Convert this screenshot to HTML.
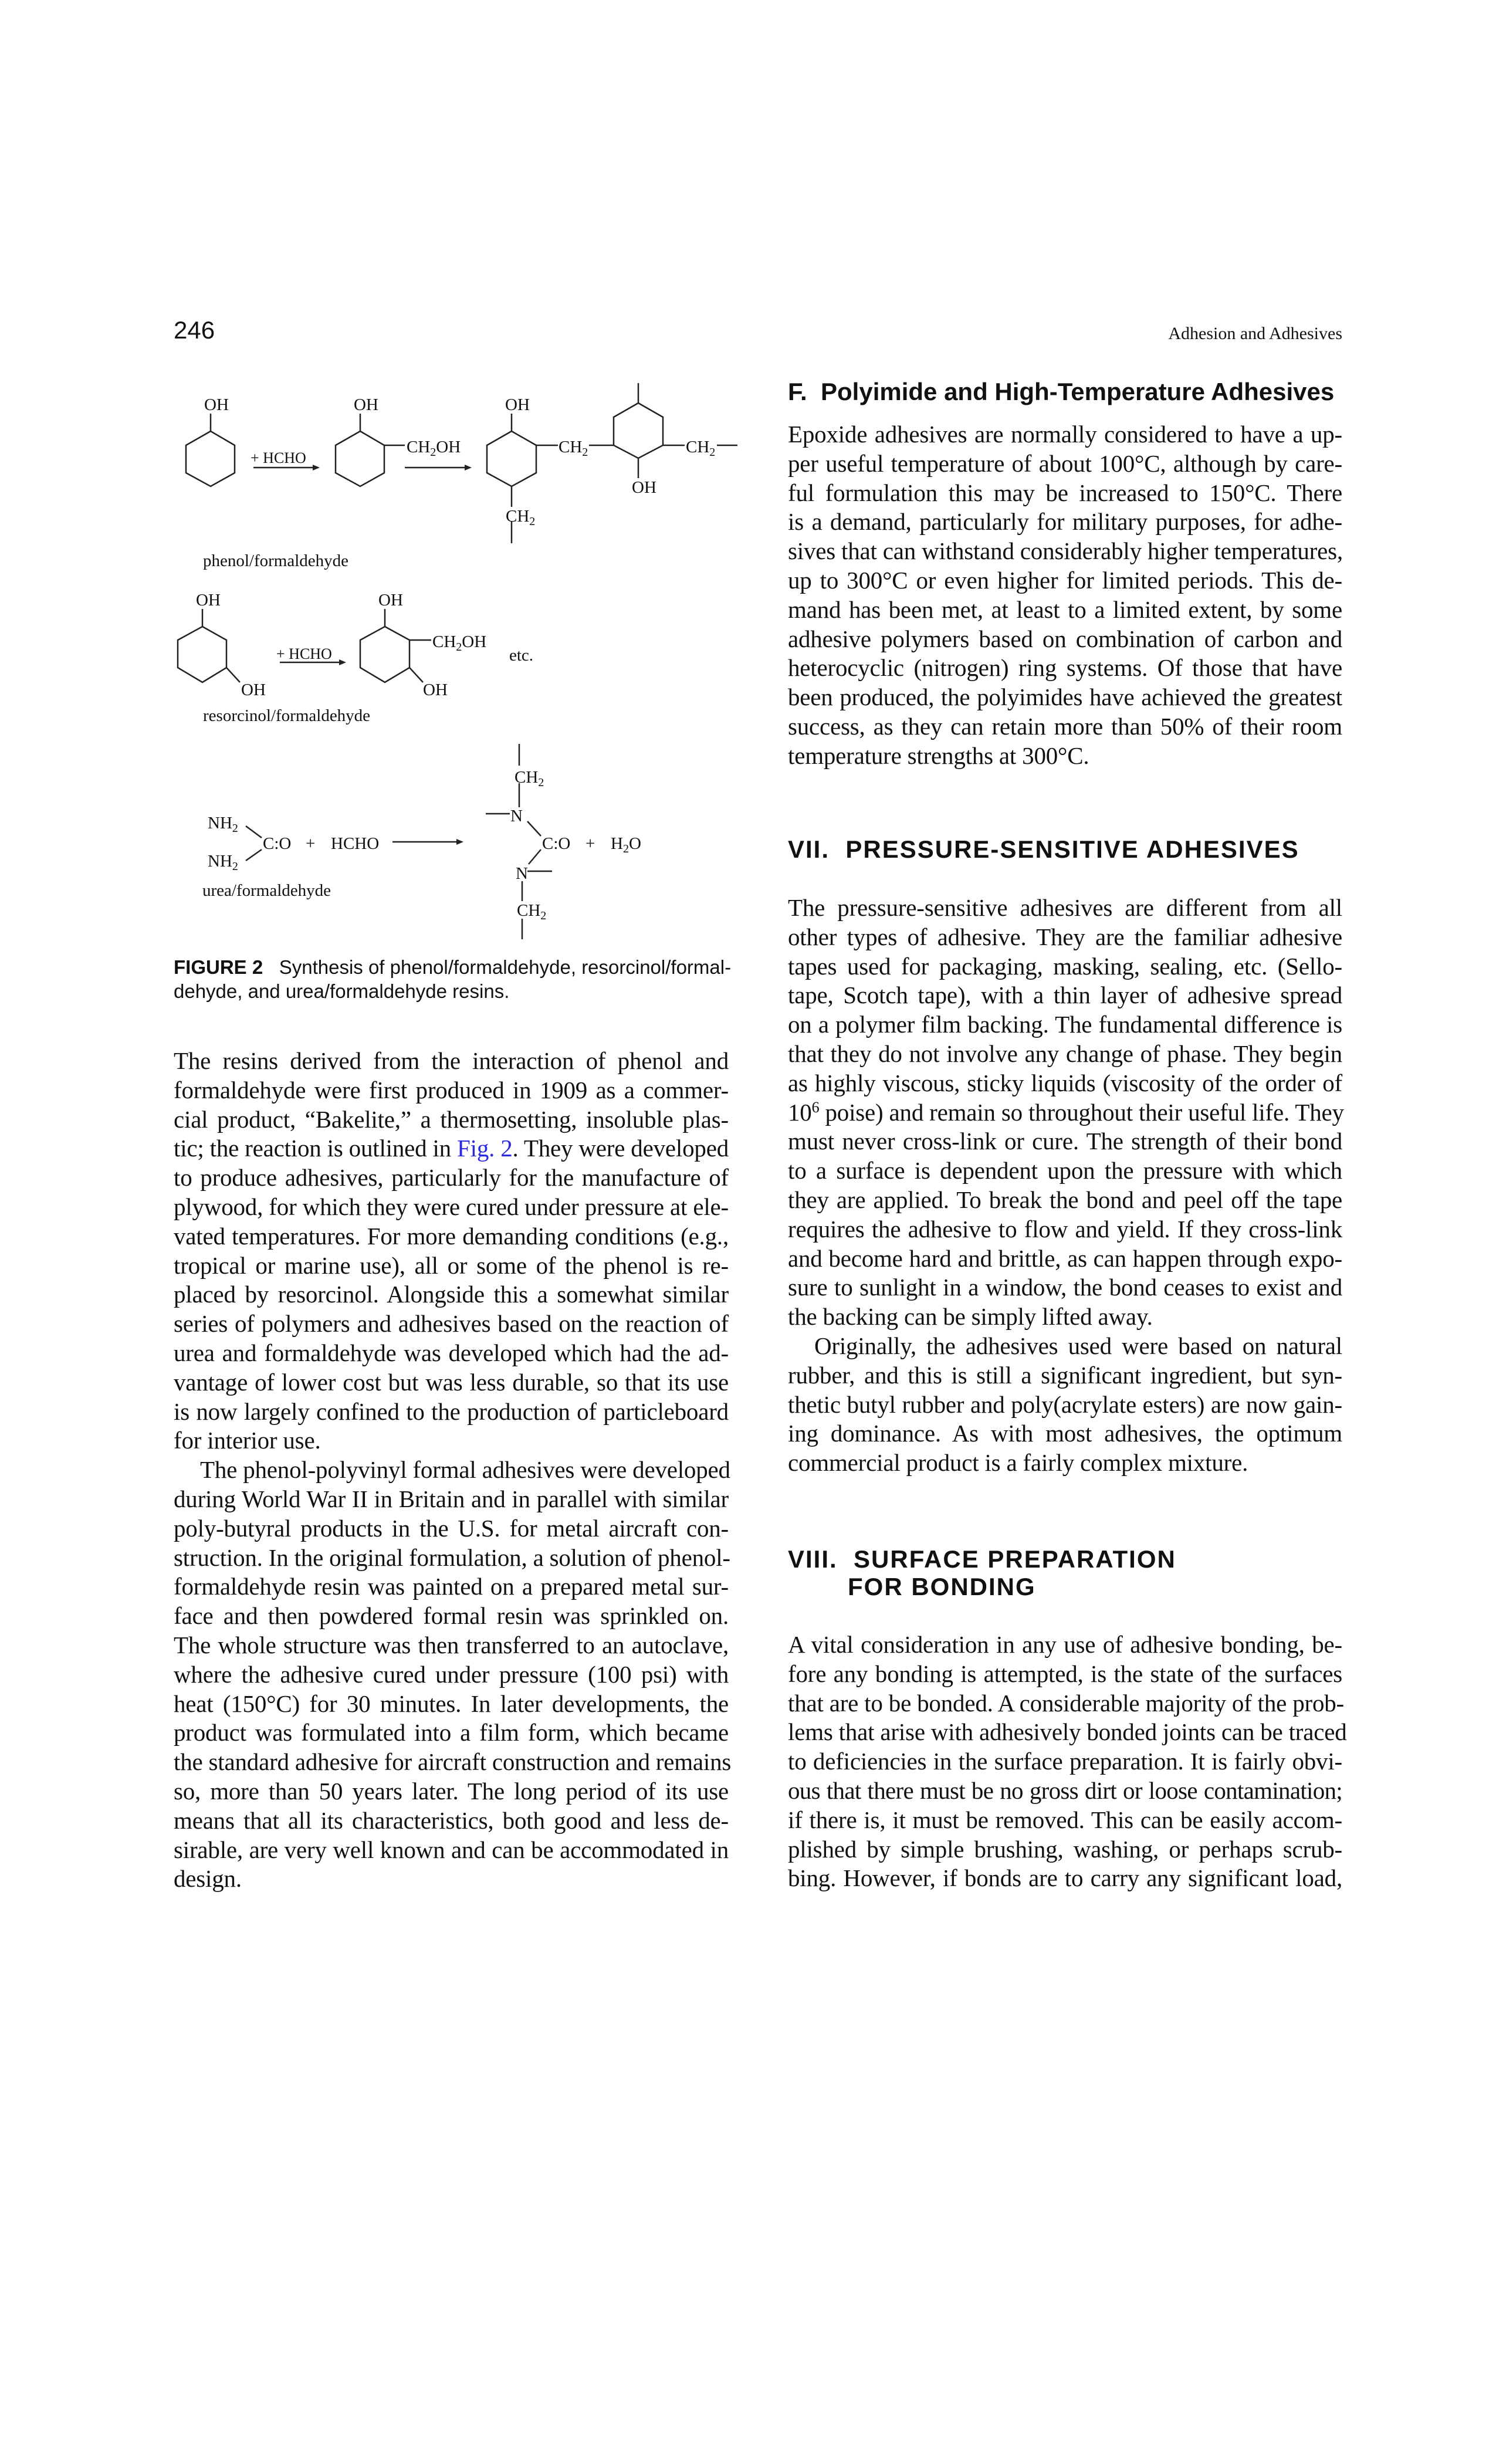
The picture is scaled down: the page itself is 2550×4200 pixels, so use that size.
<!DOCTYPE html>
<html><head><meta charset="utf-8">
<style>
html,body{margin:0;padding:0;background:#fff;}
body{width:2550px;height:4200px;position:relative;overflow:hidden;color:#111;}
.col{position:absolute;font-family:"Liberation Serif",serif;font-size:41px;line-height:49.8px;letter-spacing:-0.2px;}
.col div{white-space:nowrap;text-align:justify;text-align-last:justify;}
.col div.l{text-align:left;text-align-last:left;}
.col div.i{text-indent:45px;}
.col div.t{letter-spacing:-0.7px;}
.L{left:296px;width:946px;}
.R{left:1343px;width:945px;}
.h{position:absolute;font-family:"Liberation Sans",sans-serif;font-weight:bold;font-size:42px;line-height:47px;white-space:nowrap;}
.u{letter-spacing:2px;}
a{color:#2a2ae0;text-decoration:none;}
sup{font-size:26px;line-height:0;vertical-align:14px;}
</style></head><body>

<div style="position:absolute;left:296px;top:542px;font-family:'Liberation Sans',sans-serif;font-size:42px;line-height:42px;">246</div>
<div style="position:absolute;left:1988px;width:300px;text-align:right;top:554px;font-family:'Liberation Serif',serif;font-size:30px;line-height:30px;white-space:nowrap;">Adhesion and Adhesives</div>

<svg style="position:absolute;left:0;top:0" width="2550" height="2000" font-family="Liberation Serif, serif" font-size="29" fill="#111">
<g stroke="#222" stroke-width="2.5" fill="none">
<polygon points="359,735 400,759 400,806 359,829 317,806 317,759"/>
<line x1="359" y1="735" x2="359" y2="705"/>
<line x1="432" y1="797" x2="538" y2="797"/>
<polygon points="614,735 655,759 655,806 614,829 572,806 572,759"/>
<line x1="614" y1="735" x2="614" y2="705"/>
<line x1="655" y1="759" x2="690" y2="759"/>
<line x1="690" y1="797" x2="797" y2="797"/>
<polygon points="872,735 914,759 914,806 872,829 830,806 830,759"/>
<line x1="872" y1="735" x2="872" y2="705"/>
<line x1="914" y1="759" x2="951" y2="759"/>
<line x1="1004" y1="759" x2="1046" y2="759"/>
<polygon points="1088,687 1130,711 1130,759 1088,781 1046,759 1046,711"/>
<line x1="1088" y1="687" x2="1088" y2="653"/>
<line x1="1088" y1="781" x2="1088" y2="815"/>
<line x1="1130" y1="759" x2="1167" y2="759"/>
<line x1="1222" y1="759" x2="1257" y2="759"/>
<line x1="872" y1="829" x2="872" y2="864"/>
<line x1="872" y1="888" x2="872" y2="926"/>
<polygon points="345,1068 386,1091 386,1138 345,1163 303,1138 303,1091"/>
<line x1="345" y1="1068" x2="345" y2="1038"/>
<line x1="386" y1="1138" x2="409" y2="1163"/>
<line x1="477" y1="1129" x2="583" y2="1129"/>
<polygon points="656,1068 698,1091 698,1138 656,1163 614,1138 614,1091"/>
<line x1="656" y1="1068" x2="656" y2="1038"/>
<line x1="698" y1="1091" x2="735" y2="1091"/>
<line x1="698" y1="1138" x2="721" y2="1163"/>
<line x1="419" y1="1408" x2="446" y2="1428"/>
<line x1="446" y1="1448" x2="419" y2="1467"/>
<line x1="669" y1="1435" x2="783" y2="1435"/>
<line x1="885" y1="1268" x2="885" y2="1305"/>
<line x1="885" y1="1335" x2="885" y2="1376"/>
<line x1="828" y1="1387" x2="869" y2="1387"/>
<line x1="899" y1="1400" x2="922" y2="1425"/>
<line x1="922" y1="1448" x2="901" y2="1473"/>
<line x1="899" y1="1485" x2="941" y2="1485"/>
<line x1="890" y1="1502" x2="890" y2="1536"/>
<line x1="890" y1="1566" x2="890" y2="1601"/>
</g>
<g fill="#222">
<polygon points="545,797 533,792 533,802"/>
<polygon points="804,797 792,792 792,802"/>
<polygon points="590,1129 578,1124 578,1134"/>
<polygon points="790,1435 778,1430 778,1440"/>
</g>
<text x="348" y="699">OH</text>
<text x="427" y="789" font-size="26">+ HCHO</text>
<text x="603" y="699">OH</text>
<text x="693" y="771">CH<tspan font-size="20" dy="6">2</tspan><tspan dy="-6">OH</tspan></text>
<text x="861" y="699">OH</text>
<text x="952" y="771">CH<tspan font-size="20" dy="6">2</tspan></text>
<text x="1169" y="771">CH<tspan font-size="20" dy="6">2</tspan></text>
<text x="1077" y="840">OH</text>
<text x="862" y="889">CH<tspan font-size="20" dy="6">2</tspan></text>
<text x="346" y="965">phenol/formaldehyde</text>
<text x="334" y="1032">OH</text>
<text x="411" y="1185">OH</text>
<text x="471" y="1123" font-size="26">+ HCHO</text>
<text x="645" y="1032">OH</text>
<text x="737" y="1103">CH<tspan font-size="20" dy="6">2</tspan><tspan dy="-6">OH</tspan></text>
<text x="721" y="1185">OH</text>
<text x="868" y="1126">etc.</text>
<text x="346" y="1229">resorcinol/formaldehyde</text>
<text x="354" y="1412">NH<tspan font-size="20" dy="6">2</tspan></text>
<text x="354" y="1477">NH<tspan font-size="20" dy="6">2</tspan></text>
<text x="448" y="1447">C:O</text>
<text x="521" y="1447">+</text>
<text x="564" y="1447">HCHO</text>
<text x="877" y="1334">CH<tspan font-size="20" dy="6">2</tspan></text>
<text x="870" y="1400">N</text>
<text x="924" y="1447">C:O</text>
<text x="998" y="1447">+</text>
<text x="1041" y="1447">H<tspan font-size="20" dy="6">2</tspan><tspan dy="-6">O</tspan></text>
<text x="879" y="1498">N</text>
<text x="881" y="1561">CH<tspan font-size="20" dy="6">2</tspan></text>
<text x="345" y="1527">urea/formaldehyde</text>
</svg>

<div style="position:absolute;left:296px;top:1628px;width:1000px;font-family:'Liberation Sans',sans-serif;font-size:33px;line-height:41px;">
<div style="white-space:nowrap"><b>FIGURE 2</b>&nbsp;&nbsp; Synthesis of phenol/formaldehyde, resorcinol/formal-</div>
<div style="white-space:nowrap">dehyde, and urea/formaldehyde resins.</div>
</div>

<div class="col L" style="top:1784px;">
<div>The resins derived from the interaction of phenol and</div>
<div>formaldehyde were first produced in 1909 as a commer-</div>
<div>cial product, “Bakelite,” a thermosetting, insoluble plas-</div>
<div>tic; the reaction is outlined in <a>Fig. 2</a>. They were developed</div>
<div>to produce adhesives, particularly for the manufacture of</div>
<div>plywood, for which they were cured under pressure at ele-</div>
<div>vated temperatures. For more demanding conditions (e.g.,</div>
<div>tropical or marine use), all or some of the phenol is re-</div>
<div>placed by resorcinol. Alongside this a somewhat similar</div>
<div>series of polymers and adhesives based on the reaction of</div>
<div>urea and formaldehyde was developed which had the ad-</div>
<div>vantage of lower cost but was less durable, so that its use</div>
<div>is now largely confined to the production of particleboard</div>
<div class="l">for interior use.</div>
<div class="i">The phenol-polyvinyl formal adhesives were developed</div>
<div>during World War II in Britain and in parallel with similar</div>
<div>poly-butyral products in the U.S. for metal aircraft con-</div>
<div>struction. In the original formulation, a solution of phenol-</div>
<div>formaldehyde resin was painted on a prepared metal sur-</div>
<div>face and then powdered formal resin was sprinkled on.</div>
<div>The whole structure was then transferred to an autoclave,</div>
<div>where the adhesive cured under pressure (100 psi) with</div>
<div>heat (150°C) for 30 minutes. In later developments, the</div>
<div>product was formulated into a film form, which became</div>
<div>the standard adhesive for aircraft construction and remains</div>
<div>so, more than 50 years later. The long period of its use</div>
<div>means that all its characteristics, both good and less de-</div>
<div>sirable, are very well known and can be accommodated in</div>
<div class="l">design.</div>
</div>

<div class="h" style="left:1343px;top:644px;">F.&nbsp; Polyimide and High-Temperature Adhesives</div>
<div class="col R" style="top:716px;">
<div>Epoxide adhesives are normally considered to have a up-</div>
<div>per useful temperature of about 100°C, although by care-</div>
<div>ful formulation this may be increased to 150°C. There</div>
<div>is a demand, particularly for military purposes, for adhe-</div>
<div>sives that can withstand considerably higher temperatures,</div>
<div>up to 300°C or even higher for limited periods. This de-</div>
<div>mand has been met, at least to a limited extent, by some</div>
<div>adhesive polymers based on combination of carbon and</div>
<div>heterocyclic (nitrogen) ring systems. Of those that have</div>
<div>been produced, the polyimides have achieved the greatest</div>
<div>success, as they can retain more than 50% of their room</div>
<div class="l">temperature strengths at 300°C.</div>
</div>

<div class="h u" style="left:1343px;top:1424px;">VII.&nbsp; PRESSURE-SENSITIVE ADHESIVES</div>
<div class="col R" style="top:1523px;">
<div>The pressure-sensitive adhesives are different from all</div>
<div>other types of adhesive. They are the familiar adhesive</div>
<div>tapes used for packaging, masking, sealing, etc. (Sello-</div>
<div>tape, Scotch tape), with a thin layer of adhesive spread</div>
<div>on a polymer film backing. The fundamental difference is</div>
<div>that they do not involve any change of phase. They begin</div>
<div>as highly viscous, sticky liquids (viscosity of the order of</div>
<div>10<sup>6</sup> poise) and remain so throughout their useful life. They</div>
<div>must never cross-link or cure. The strength of their bond</div>
<div>to a surface is dependent upon the pressure with which</div>
<div>they are applied. To break the bond and peel off the tape</div>
<div>requires the adhesive to flow and yield. If they cross-link</div>
<div>and become hard and brittle, as can happen through expo-</div>
<div>sure to sunlight in a window, the bond ceases to exist and</div>
<div class="l">the backing can be simply lifted away.</div>
<div class="i">Originally, the adhesives used were based on natural</div>
<div>rubber, and this is still a significant ingredient, but syn-</div>
<div>thetic butyl rubber and poly(acrylate esters) are now gain-</div>
<div>ing dominance. As with most adhesives, the optimum</div>
<div class="l">commercial product is a fairly complex mixture.</div>
</div>

<div class="h u" style="left:1343px;top:2634px;">VIII.&nbsp; SURFACE PREPARATION</div>
<div class="h u" style="left:1445px;top:2681px;">FOR BONDING</div>
<div class="col R" style="top:2779px;">
<div>A vital consideration in any use of adhesive bonding, be-</div>
<div>fore any bonding is attempted, is the state of the surfaces</div>
<div>that are to be bonded. A considerable majority of the prob-</div>
<div>lems that arise with adhesively bonded joints can be traced</div>
<div>to deficiencies in the surface preparation. It is fairly obvi-</div>
<div class="t">ous that there must be no gross dirt or loose contamination;</div>
<div>if there is, it must be removed. This can be easily accom-</div>
<div>plished by simple brushing, washing, or perhaps scrub-</div>
<div>bing. However, if bonds are to carry any significant load,</div>
</div>
</body></html>
